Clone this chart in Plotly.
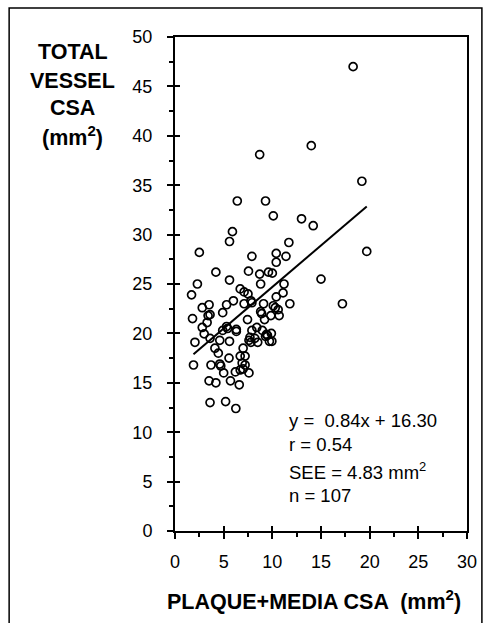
import plotly.graph_objects as go

# Data
plaque_media_csa = [
    18.3, 14.0, 8.7, 19.2, 6.4, 9.3, 10.1, 13.0, 14.2, 5.9,
    5.6, 11.7, 2.5, 19.7, 7.9, 10.4, 11.4, 10.4, 4.2, 7.55,
    8.7, 9.6, 10.0, 5.6, 15.0, 2.3, 8.8, 11.2, 1.7, 6.7,
    7.1, 7.5, 10.4, 11.1, 6.0, 5.3, 7.1, 7.9, 9.1, 11.8,
    17.2, 3.5, 2.8, 10.1, 4.9, 10.6, 8.9, 3.4, 10.7, 1.8,
    7.45, 9.2, 9.85, 3.3, 5.3, 2.8, 6.3, 7.9, 8.4, 4.9,
    8.97, 9.9, 3.0, 9.5, 2.05, 3.6, 4.6, 5.6, 7.8, 8.5,
    9.7, 9.95, 4.1, 7.0, 4.45, 6.7, 7.2, 1.9, 5.55, 3.7,
    4.6, 7.2, 7.0, 5.0, 6.2, 7.6, 3.5, 4.2, 5.7, 6.6,
    3.6, 5.2, 6.25,
    7.7, 8.2, 9.3, 6.9, 6.7, 9.4, 5.4, 4.7, 7.8, 10.3,
    8.8, 3.6, 6.3, 7.6,
]
total_vessel_csa = [
    47.0, 39.0, 38.1, 35.4, 33.4, 33.4, 31.9, 31.6, 30.9, 30.3,
    29.3, 29.2, 28.2, 28.3, 27.8, 28.1, 27.8, 27.2, 26.2, 26.3,
    26.0, 26.2, 26.1, 25.4, 25.5, 25.0, 25.0, 25.0, 23.9, 24.5,
    24.2, 24.0, 23.7, 24.1, 23.3, 22.9, 23.0, 23.1, 23.0, 23.0,
    23.0, 22.9, 22.6, 22.8, 22.1, 22.4, 22.0, 21.8, 21.8, 21.5,
    21.4, 21.4, 21.8, 21.1, 20.7, 20.6, 20.4, 20.3, 20.6, 20.3,
    20.3, 20.0, 19.95, 19.8, 19.1, 19.5, 19.3, 19.2, 19.1, 19.1,
    19.2, 19.2, 18.5, 18.5, 18.0, 17.7, 17.7, 16.8, 17.5, 16.8,
    16.9, 16.8, 16.4, 16.0, 16.1, 16.0, 15.2, 15.0, 15.2, 14.8,
    13.0, 13.1, 12.4,
    19.6, 19.5, 19.7, 17.0, 16.3, 19.9, 20.5, 16.7, 23.3, 22.6,
    22.2, 21.9, 20.2, 19.3,
]
slope = 0.84
intercept = 16.30
fit_x_range = [1.9, 19.7]
stats_lines = [
    "y =  0.84x + 16.30",
    "r = 0.54",
    "SEE = 4.83 mm<sup>2</sup>",
    "n = 107",
]
y_title_lines = ["TOTAL", "VESSEL", "CSA", "(mm<sup>2</sup>)"]
x_title = "PLAQUE+MEDIA CSA  (mm<sup>2</sup>)"

fit_y = [slope * v + intercept for v in fit_x_range]

FONT = "Liberation Sans, Arial, sans-serif"

fig = go.Figure()
fig.add_trace(go.Scatter(
    x=plaque_media_csa, y=total_vessel_csa, mode="markers",
    marker=dict(symbol="circle-open", size=8, color="black",
                line=dict(width=1.7, color="black")),
    showlegend=False, hoverinfo="skip",
))
fig.add_trace(go.Scatter(
    x=fit_x_range, y=fit_y, mode="lines",
    line=dict(color="black", width=2), showlegend=False, hoverinfo="skip",
))
# overlay trace for inside ticks
fig.add_trace(go.Scatter(x=[None], y=[None], xaxis="x2", yaxis="y2",
                         showlegend=False, hoverinfo="skip"))

axis_common = dict(
    showgrid=False, zeroline=False, showline=True, linecolor="black",
    linewidth=2, mirror=True, color="black",
)

fig.update_layout(
    width=489, height=623,
    margin=dict(l=175, r=20, t=37, b=92, pad=0),
    paper_bgcolor="white", plot_bgcolor="white",
    font=dict(family=FONT, color="black", size=18),
    xaxis=dict(
        range=[0, 30], tickvals=[0, 5, 10, 15, 20, 25, 30],
        ticks="outside", ticklen=6, tickwidth=1.5, tickcolor="black",
        minor=dict(dtick=2.5, ticks="outside", ticklen=4, tickwidth=1.5, tickcolor="black"),
        tickfont=dict(size=18, family=FONT), ticklabelstandoff=7,
        **axis_common,
    ),
    yaxis=dict(
        range=[0, 50], tickvals=[0, 5, 10, 15, 20, 25, 30, 35, 40, 45, 50],
        ticks="outside", ticklen=6, tickwidth=1.5, tickcolor="black",
        minor=dict(dtick=2.5, ticks="outside", ticklen=4, tickwidth=1.5, tickcolor="black"),
        tickfont=dict(size=18, family=FONT), ticklabelstandoff=11,
        **axis_common,
    ),
    xaxis2=dict(range=[0, 30], overlaying="x", tickvals=[0, 5, 10, 15, 20, 25, 30],
                ticks="inside", ticklen=5, tickwidth=1.5, tickcolor="black",
                showticklabels=False, showgrid=False, zeroline=False, showline=False),
    yaxis2=dict(range=[0, 50], overlaying="y", tickvals=[0, 5, 10, 15, 20, 25, 30, 35, 40, 45, 50],
                ticks="inside", ticklen=5, tickwidth=1.5, tickcolor="black",
                showticklabels=False, showgrid=False, zeroline=False, showline=False),
)

annotations = []
plot_top, plot_h, plot_left, plot_w = 37, 494, 175, 294
def py(pix):
    return 1 - (pix - plot_top) / plot_h
def px(pix):
    return (pix - plot_left) / plot_w

for line, ypix in zip(y_title_lines, [52, 81, 108, 136]):
    annotations.append(dict(
        text="<b>" + line + "</b>", xref="paper", yref="paper",
        x=px(72), y=py(ypix), xanchor="center", yanchor="middle",
        showarrow=False, font=dict(size=21.5, family=FONT, color="black"),
    ))
annotations.append(dict(
    text="<b>" + x_title + "</b>", xref="paper", yref="paper",
    x=px(315), y=py(600), xanchor="center", yanchor="middle",
    showarrow=False, font=dict(size=21.5, family=FONT, color="black"),
))
for line, ypix in zip(stats_lines, [420, 444, 471, 495]):
    annotations.append(dict(
        text=line, xref="paper", yref="paper",
        x=px(288), y=py(ypix), xanchor="left", yanchor="middle",
        showarrow=False, font=dict(size=18.5, family=FONT, color="black"),
    ))
fig.update_layout(annotations=annotations)

# outer frame
fig.add_shape(type="rect", xref="paper", yref="paper",
              x0=px(8), x1=px(484), y0=py(640), y1=py(8),
              line=dict(color="black", width=1.5), layer="below")

fig.write_html(
    "out.html",
    config={"displayModeBar": False},
    post_script="document.body.style.margin='0px';document.body.style.overflow='hidden';",
)
